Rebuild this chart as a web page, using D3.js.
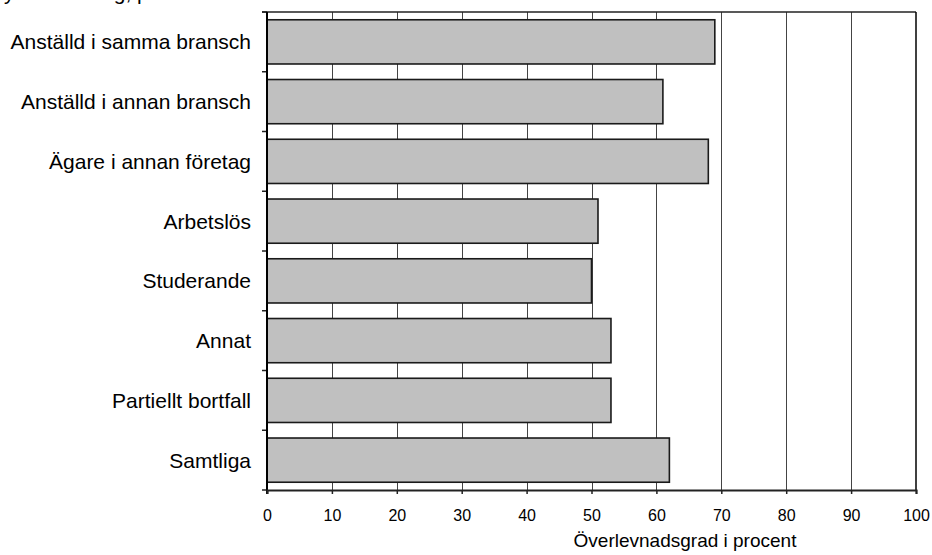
<!DOCTYPE html>
<html>
<head>
<meta charset="utf-8">
<script src="https://cdn.jsdelivr.net/npm/d3@7"></script>
<style>
  html, body { margin: 0; padding: 0; background: #fff; }
  svg { display: block; font-family: "Liberation Sans", Arial, sans-serif; }
</style>
</head>
<body>
<svg id="chart" width="932" height="555"></svg>
<script>
const categories = [
  "Anställd i samma bransch",
  "Anställd i annan bransch",
  "Ägare i annan företag",
  "Arbetslös",
  "Studerande",
  "Annat",
  "Partiellt bortfall",
  "Samtliga"
];
const values = [69, 61, 68, 51, 50, 53, 53, 62];
const xTicks = [0, 10, 20, 30, 40, 50, 60, 70, 80, 90, 100];
const xTitle = "Överlevnadsgrad i procent";
const clippedTopText = "Sysselsättning, procent";

(function () {
const svg = d3.select("#chart");
const pLeft = 267, pRight = 916, pTop = 12, pBottom = 490;

const x = d3.scaleLinear().domain([0, 100]).range([pLeft, pRight]);
const y = d3.scaleBand().domain(categories).range([pTop, pBottom])
  .paddingInner(0.26).paddingOuter(0.13);

// clipped text at top edge (only descenders visible, as in the reference)
svg.append("text").attr("x", -10).attr("y", 0)
  .attr("font-size", 21).attr("fill", "#000").text(clippedTopText);

// gridlines
svg.append("g").selectAll("line").data(xTicks.filter(d => d > 0 && d < 100))
  .join("line")
  .attr("x1", d => Math.round(x(d)) + 0.5).attr("x2", d => Math.round(x(d)) + 0.5)
  .attr("y1", pTop).attr("y2", pBottom)
  .attr("stroke", "#444").attr("stroke-width", 1);

// frame: top and right
svg.append("line").attr("x1", pLeft - 5).attr("x2", pRight).attr("y1", pTop).attr("y2", pTop)
  .attr("stroke", "#222").attr("stroke-width", 1.5);
svg.append("line").attr("x1", pRight).attr("x2", pRight).attr("y1", pTop).attr("y2", pBottom)
  .attr("stroke", "#000").attr("stroke-width", 1.5);

// bars
svg.append("g").selectAll("rect").data(values).join("rect")
  .attr("x", x(0))
  .attr("y", (d, i) => y(categories[i]))
  .attr("width", d => x(d) - x(0))
  .attr("height", y.bandwidth())
  .attr("fill", "#c0c0c0")
  .attr("stroke", "#1a1a1a")
  .attr("stroke-width", 1.6);

// category ticks at band boundaries
const bounds = d3.range(categories.length + 1).map(i => pTop + i * y.step());
svg.append("g").selectAll("line").data(bounds).join("line")
  .attr("x1", pLeft - 5).attr("x2", pLeft)
  .attr("y1", d => d).attr("y2", d => d)
  .attr("stroke", "#222").attr("stroke-width", 1.5);

// category labels
svg.append("g").selectAll("text").data(categories).join("text")
  .attr("x", 251)
  .attr("y", d => y(d) + y.bandwidth() / 2)
  .attr("dy", "0.36em")
  .attr("text-anchor", "end")
  .attr("font-size", 21)
  .attr("fill", "#000")
  .text(d => d);

// left axis line
svg.append("line").attr("x1", pLeft).attr("x2", pLeft).attr("y1", pTop).attr("y2", pBottom + 4)
  .attr("stroke", "#000").attr("stroke-width", 2);

// bottom axis
const xAxis = d3.axisBottom(x).tickValues(xTicks).tickSize(4).tickPadding(16).tickFormat(d3.format("d"));
const gx = svg.append("g").attr("transform", `translate(0,${pBottom})`).call(xAxis);
gx.select(".domain").attr("stroke", "#222").attr("stroke-width", 2);
gx.selectAll(".tick line").attr("stroke", "#222").attr("stroke-width", 1.5);
gx.selectAll(".tick text").attr("font-size", 16).attr("fill", "#000")
  .attr("font-family", "Liberation Sans, Arial, sans-serif");

// x title
svg.append("text").attr("x", 685).attr("y", 547)
  .attr("text-anchor", "middle").attr("font-size", 19).attr("fill", "#000")
  .text(xTitle);
})();
</script>
</body>
</html>
